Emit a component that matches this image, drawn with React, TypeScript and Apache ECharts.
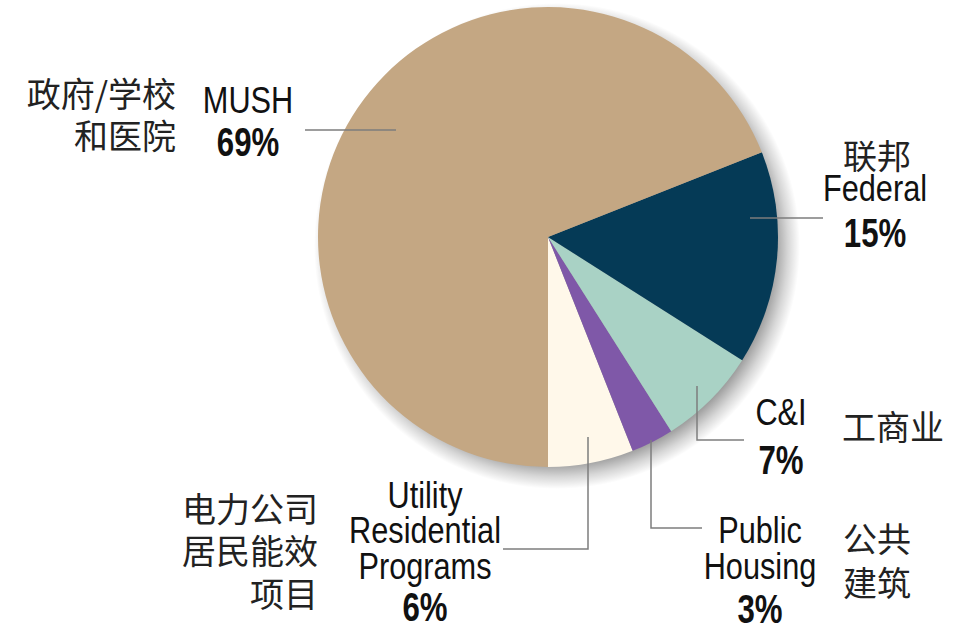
import React, { useEffect, useRef } from "react";
import * as echarts from "echarts";

// Data (counter-clockwise from 6 o'clock)
const categories = ["Utility Residential Programs", "Public Housing", "C&I", "Federal", "MUSH"];
const values = [6, 3, 7, 15, 69];
const englishLines = [
  ["Utility", "Residential", "Programs"],
  ["Public", "Housing"],
  ["C&I"],
  ["Federal"],
  ["MUSH"],
];
const chineseLines = [
  ["电力公司", "居民能效", "项目"],
  ["公共", "建筑"],
  ["工商业"],
  ["联邦"],
  ["政府/学校", "和医院"],
];
const colors = ["#FFF8EA", "#7F58A8", "#A9D2C5", "#053A56", "#C4A783"];

// Layout (positions only)
const layouts = [
  { enX: 425, enY: [495, 530, 566], pctY: 608, cnX: 318, cnAlign: "right", cnY: [507, 549, 592], line: [[588, 437], [588, 549], [503, 549]] },
  { enX: 760, enY: [530, 566], pctY: 610, cnX: 843, cnAlign: "left", cnY: [537, 581], line: [[651, 440], [651, 528], [702, 528]] },
  { enX: 781, enY: [412], pctY: 461, cnX: 842, cnAlign: "left", cnY: [425], line: [[697, 386], [697, 440], [744, 440]] },
  { enX: 875, enY: [188], pctY: 234, cnX: 877, cnAlign: "center", cnY: [154], line: [[750, 218], [823, 218]] },
  { enX: 248, enY: [100], pctY: 143, cnX: 176, cnAlign: "right", cnY: [92, 134], line: [[305, 130], [396, 130]] },
];

const EN_FONT = '"Liberation Sans", Arial, sans-serif';
const CN_FONT = '"Noto Sans CJK SC", sans-serif';
const CONDENSE = 0.83;
const CONDENSE_BOLD = 0.78;

export default function App() {
  const ref = useRef<HTMLDivElement>(null);
  useEffect(() => {
    if (!ref.current) return;
    const chart = echarts.init(ref.current, undefined, { renderer: "svg" });
    const graphics: any[] = [];
    graphics.push({
      type: "circle",
      silent: true,
      z: 0,
      shape: { cx: 557, cy: 246, r: 243 },
      style: {
        fill: {
          type: "radial",
          x: 0.5, y: 0.5, r: 0.5,
          colorStops: [
            { offset: 0, color: "rgba(0,0,0,0.42)" },
            { offset: 0.89, color: "rgba(0,0,0,0.4)" },
            { offset: 0.95, color: "rgba(0,0,0,0.16)" },
            { offset: 1, color: "rgba(0,0,0,0)" },
          ],
        },
      },
    });
    categories.forEach((_, i) => {
      const L: any = layouts[i];
      englishLines[i].forEach((t, j) => {
        graphics.push({
          type: "text",
          silent: true,
          z: 10,
          x: L.enX,
          y: L.enY[j],
          scaleX: CONDENSE,
          style: {
            text: t, x: 0, y: 0,
            align: "center", verticalAlign: "middle",
            textAlign: "center", textVerticalAlign: "middle",
            fontFamily: EN_FONT, fontSize: 37, lineHeight: 30, fill: "#111",
          },
        });
      });
      graphics.push({
        type: "text",
        silent: true,
        z: 10,
        x: L.enX,
        y: L.pctY,
        scaleX: CONDENSE_BOLD,
        style: {
          text: values[i] + "%", x: 0, y: 0,
          align: "center", verticalAlign: "middle",
          textAlign: "center", textVerticalAlign: "middle",
          fontFamily: EN_FONT, fontWeight: "bold", fontSize: 40, lineHeight: 28, fill: "#111",
        },
      });
      chineseLines[i].forEach((t, j) => {
        graphics.push({
          type: "text",
          silent: true,
          z: 10,
          style: {
            text: t, x: L.cnX, y: L.cnY[j],
            align: L.cnAlign, verticalAlign: "middle",
            textAlign: L.cnAlign, textVerticalAlign: "middle",
            fontFamily: CN_FONT, fontSize: 34, lineHeight: 36, fill: "#222",
          },
        });
      });
      graphics.push({
        type: "polyline",
        silent: true,
        z: 10,
        shape: { points: L.line },
        style: { stroke: "#7d7d7d", lineWidth: 1.5, fill: "none" },
      });
    });

    chart.setOption({
      animation: false,
      backgroundColor: "#ffffff",
      graphic: graphics,
      series: [
        {
          type: "pie",
          silent: true,
          z: 2,
          center: [548, 237],
          radius: 230,
          startAngle: 270,
          clockwise: false,
          label: { show: false },
          labelLine: { show: false },
          emphasis: { disabled: true },
          itemStyle: { borderWidth: 0 },
          data: categories.map((c, i) => ({ name: c, value: values[i], itemStyle: { color: colors[i] } })),
        },
      ],
    });
    return () => chart.dispose();
  }, []);
  return (
    <div
      ref={ref}
      style={{ position: "fixed", left: 0, top: 0, width: 955, height: 631 }}
    />
  );
}
